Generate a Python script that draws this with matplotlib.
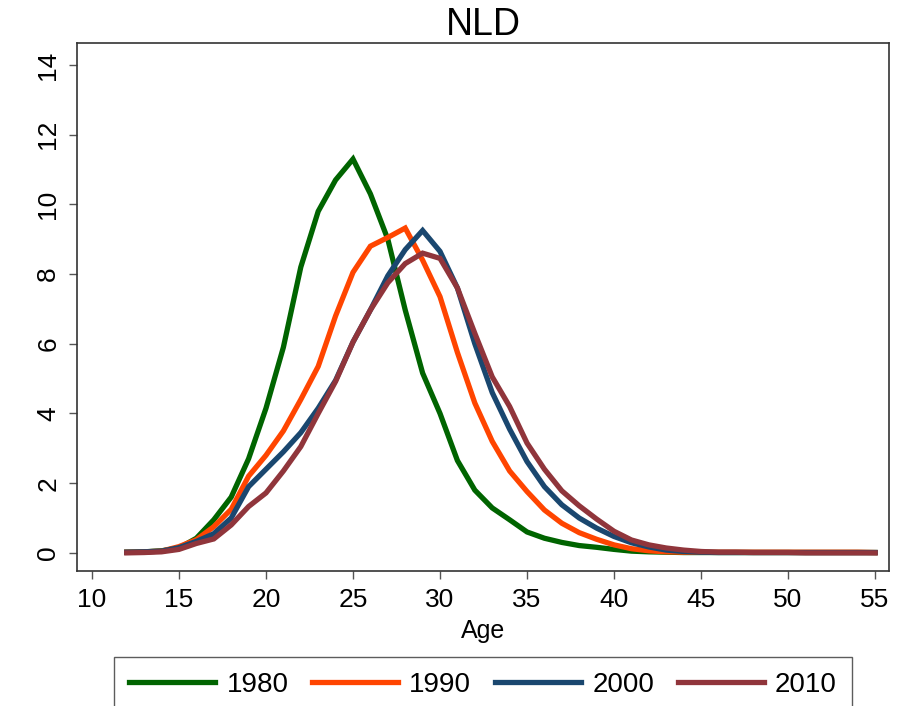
import matplotlib.pyplot as plt
import numpy as np

plt.rcParams['font.family'] = ['Liberation Sans', 'DejaVu Sans']

ages = list(range(12, 56))

fert_1980 = [0.02, 0.03, 0.06, 0.14, 0.42, 0.95, 1.6, 2.7, 4.15, 5.9,
             8.2, 9.8, 10.7, 11.3, 10.3, 9.0, 6.97, 5.16, 4.0, 2.65,
             1.8, 1.29, 0.95, 0.6, 0.42, 0.3, 0.21, 0.16, 0.1, 0.05,
             0.03, 0.02, 0.01, 0.01, 0.01, 0.01, 0.01, 0.01, 0.01, 0.01,
             0.01, 0.01, 0.01, 0.01]
fert_1990 = [0.02, 0.03, 0.05, 0.18, 0.38, 0.75, 1.25, 2.2, 2.8, 3.5,
             4.4, 5.35, 6.8, 8.05, 8.8, 9.05, 9.32, 8.4, 7.35, 5.75,
             4.3, 3.2, 2.35, 1.76, 1.23, 0.85, 0.58, 0.39, 0.23, 0.12,
             0.06, 0.03, 0.02, 0.02, 0.02, 0.02, 0.02, 0.02, 0.02, 0.02,
             0.02, 0.02, 0.02, 0.01]
fert_2000 = [0.02, 0.03, 0.05, 0.15, 0.33, 0.55, 1.0, 1.9, 2.4, 2.9,
             3.45, 4.15, 4.95, 6.05, 6.97, 7.95, 8.7, 9.25, 8.65, 7.6,
             6.0, 4.6, 3.55, 2.62, 1.9, 1.38, 1.0, 0.71, 0.47, 0.29,
             0.17, 0.08, 0.04, 0.02, 0.01, 0.01, 0.01, 0.01, 0.01, 0.01,
             0.01, 0.01, 0.01, 0.01]
fert_2010 = [0.0, 0.01, 0.03, 0.1, 0.27, 0.4, 0.8, 1.33, 1.72, 2.35,
             3.05, 4.0, 4.92, 6.05, 6.97, 7.75, 8.3, 8.6, 8.45, 7.6,
             6.3, 5.05, 4.2, 3.15, 2.4, 1.78, 1.35, 0.97, 0.62, 0.37,
             0.23, 0.14, 0.08, 0.04, 0.02, 0.02, 0.01, 0.01, 0.01, 0.0,
             0.0, 0.0, 0.0, 0.0]

series = [("1980", fert_1980, "#006400"),
          ("1990", fert_1990, "#FF4500"),
          ("2000", fert_2000, "#1A476F"),
          ("2010", fert_2010, "#90353B")]

fig = plt.figure(figsize=(9.02, 7.06), dpi=100)
ax = fig.add_axes([77/902, 1 - 571/706, 812/902, 528/706])

for label, vals, col in series:
    ax.plot(ages, vals, color=col, lw=3.8, label=label, solid_joinstyle='miter')

ax.set_xlim(9.14, 55.8)
ax.set_ylim(-0.52, 14.63)
ax.set_xticks(range(10, 56, 5))
ax.set_yticks(range(0, 15, 2))
ax.tick_params(axis='both', direction='out', length=6, width=1, color='#555555',
               labelsize=19, pad=6)
plt.setp(ax.get_yticklabels(), rotation=90, va='center')
for s in ax.spines.values():
    s.set_color('#333333')
    s.set_linewidth(1.2)

ax.set_title("NLD", fontsize=27, pad=4)
ax.set_xlabel("Age", fontsize=18, labelpad=5)

# legend centred under the plot region, bottom edge runs off the figure
fig.legend(loc='lower center', bbox_to_anchor=(483/902, -0.03), ncol=4, fontsize=20,
           frameon=True, fancybox=False, edgecolor='#333333', handlelength=3.1,
           handletextpad=0.4, columnspacing=0.85, borderpad=0.55)

fig.savefig("out.png", dpi=100)
